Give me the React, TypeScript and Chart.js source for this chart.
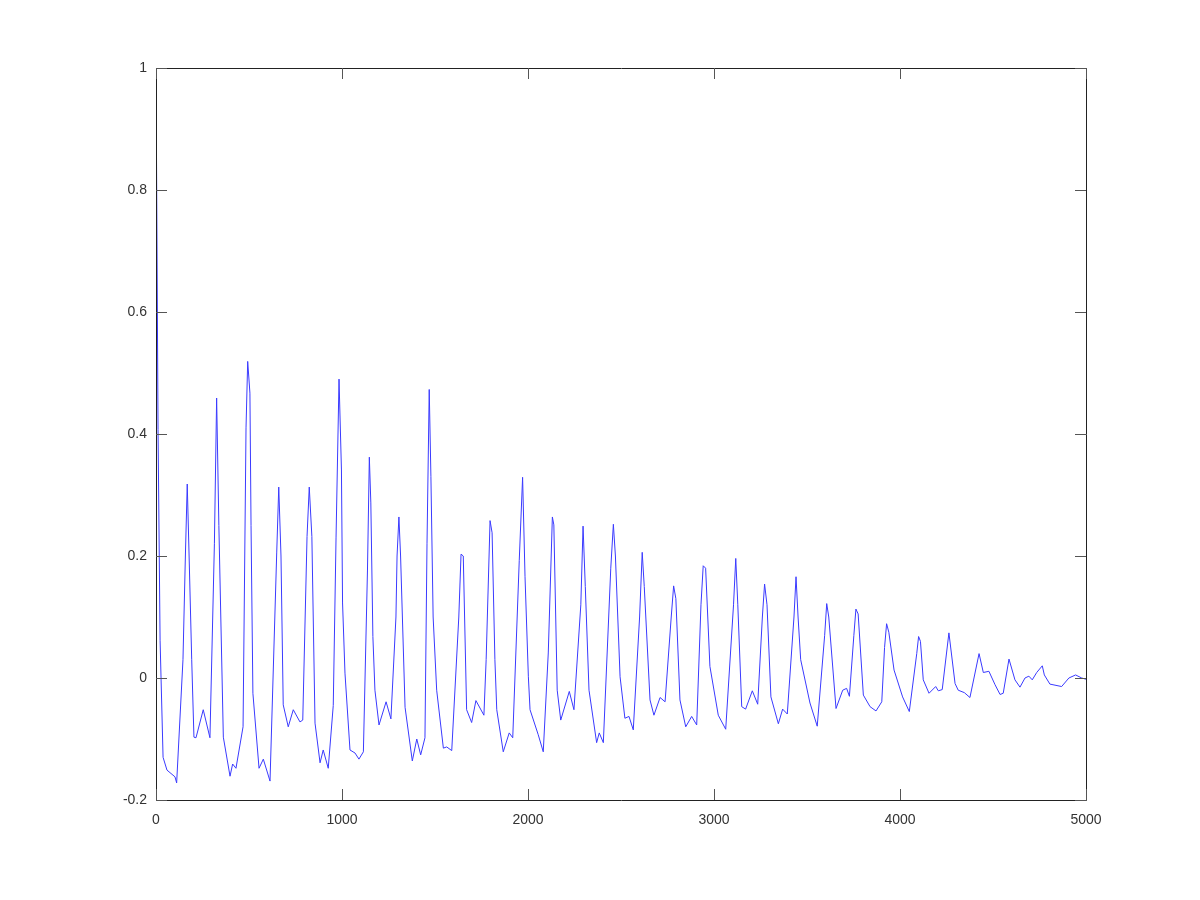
import React, { useEffect, useRef } from "react";
import { Chart, registerables } from "chart.js";

Chart.register(...registerables);

// lag values (x) and correlation values (y)
const lags: number[] = [
  0, 11, 22, 38, 59, 102, 111, 145, 158, 168, 178,
  192, 204, 215, 254, 290, 314, 326, 338,
  362, 398, 412, 430, 468, 484, 493, 505, 511,
  521, 554, 577, 613, 649, 660, 672,
  684, 711, 738, 774, 789, 812, 824, 838,
  855, 882, 899, 926, 953, 968, 984, 997, 1003,
  1016, 1043, 1070, 1091, 1115, 1137, 1147, 1155, 1166,
  1177, 1199, 1237, 1263, 1290, 1296, 1306, 1315,
  1339, 1378, 1402, 1423, 1446, 1457, 1469, 1478, 1490,
  1509, 1545, 1563, 1590, 1628, 1640, 1652,
  1670, 1697, 1720, 1763, 1775, 1796, 1807, 1822,
  1832, 1867, 1899, 1918, 1953, 1971, 1984, 2002,
  2011, 2055, 2082, 2109, 2131, 2139,
  2157, 2176, 2222, 2247, 2284, 2296, 2308,
  2328, 2369, 2383, 2405, 2445, 2459, 2470,
  2495, 2521, 2543, 2566, 2600, 2614, 2625,
  2656, 2677, 2710, 2737, 2770, 2783, 2795,
  2817, 2848, 2880, 2907, 2930, 2942, 2955,
  2978, 3023, 3063, 3105, 3117, 3128,
  3149, 3170, 3206, 3235, 3260, 3272, 3285,
  3306, 3346, 3369, 3394, 3430, 3441, 3452,
  3466, 3516, 3555, 3595, 3606, 3617,
  3656, 3692, 3713, 3728, 3752, 3763, 3775,
  3803, 3839, 3871, 3902, 3917, 3928, 3940,
  3968, 4014, 4050, 4090, 4100, 4110,
  4125, 4156, 4192, 4206, 4227, 4263,
  4296, 4313, 4346, 4376, 4425,
  4448, 4478, 4511, 4538, 4555, 4586,
  4618, 4645, 4672, 4693, 4711, 4735, 4765, 4776, 4806, 4869, 4908, 4944, 4977, 5000,
];

const corr: number[] = [
  1.0, 0.407, 0.062, -0.13, -0.151, -0.162, -0.172, 0.03, 0.2, 0.318, 0.2,
  0.03, -0.097, -0.098, -0.052, -0.098, 0.22, 0.459, 0.25,
  -0.097, -0.161, -0.141, -0.148, -0.08, 0.41, 0.519, 0.467, 0.25,
  -0.025, -0.148, -0.133, -0.169, 0.205, 0.313, 0.2,
  -0.044, -0.08, -0.052, -0.072, -0.069, 0.232, 0.313, 0.232,
  -0.074, -0.139, -0.118, -0.148, -0.045, 0.231, 0.49, 0.341, 0.123,
  0.008, -0.118, -0.123, -0.133, -0.121, 0.177, 0.362, 0.287, 0.068,
  -0.02, -0.077, -0.039, -0.067, 0.1, 0.2, 0.264, 0.2,
  -0.048, -0.136, -0.1, -0.126, -0.098, 0.22, 0.473, 0.33, 0.1,
  -0.02, -0.115, -0.113, -0.119, 0.1, 0.203, 0.2,
  -0.052, -0.073, -0.037, -0.061, 0.03, 0.258, 0.238, 0.03,
  -0.052, -0.121, -0.09, -0.098, 0.193, 0.329, 0.166, 0.002,
  -0.052, -0.093, -0.121, 0.041, 0.264, 0.251,
  -0.02, -0.069, -0.022, -0.052, 0.12, 0.249, 0.15,
  -0.02, -0.106, -0.09, -0.106, 0.18, 0.252, 0.2,
  0.002, -0.066, -0.063, -0.085, 0.1, 0.206, 0.15,
  -0.036, -0.061, -0.032, -0.039, 0.1, 0.151, 0.13,
  -0.036, -0.08, -0.063, -0.077, 0.12, 0.184, 0.18,
  0.019, -0.061, -0.084, 0.12, 0.196, 0.12,
  -0.047, -0.051, -0.021, -0.043, 0.1, 0.154, 0.12,
  -0.031, -0.075, -0.051, -0.059, 0.1, 0.166, 0.1,
  0.03, -0.041, -0.079, 0.07, 0.122, 0.1,
  -0.05, -0.02, -0.017, -0.03, 0.07, 0.113, 0.105,
  -0.028, -0.047, -0.054, -0.039, 0.05, 0.089, 0.075,
  0.013, -0.031, -0.055, 0.04, 0.068, 0.06,
  -0.003, -0.025, -0.014, -0.021, -0.019, 0.074,
  -0.009, -0.02, -0.024, -0.032, 0.04,
  0.009, 0.011, -0.011, -0.027, -0.025, 0.031,
  -0.003, -0.015, 0.0, 0.003, -0.003, 0.009, 0.02, 0.005, -0.01, -0.014, 0.0, 0.005, 0.0, -0.002,
];

const xTicks: number[] = [0, 1000, 2000, 3000, 4000, 5000];
const yTicks: number[] = [-0.2, 0, 0.2, 0.4, 0.6, 0.8, 1];

const FONT = "'Liberation Sans', 'DejaVu Sans', sans-serif";

const boxPlugin = {
  id: "gnuBox",
  afterDatasetsDraw(chart: any) {
    const { ctx, chartArea, scales } = chart;
    const { left, right, top, bottom } = chartArea;
    ctx.save();
    ctx.strokeStyle = "#222";
    ctx.lineWidth = 1;
    ctx.beginPath();
    ctx.rect(Math.round(left) + 0.5, Math.round(top) + 0.5, Math.round(right - left), Math.round(bottom - top));
    ctx.stroke();
    ctx.strokeStyle = "#555";
    const L = 11;
    ctx.beginPath();
    for (const v of yTicks) {
      const y = Math.round(scales.y.getPixelForValue(v)) + 0.5;
      ctx.moveTo(left, y);
      ctx.lineTo(left + L, y);
      ctx.moveTo(right, y);
      ctx.lineTo(right - L, y);
    }
    for (const v of xTicks) {
      const x = Math.round(scales.x.getPixelForValue(v)) + 0.5;
      ctx.moveTo(x, bottom);
      ctx.lineTo(x, bottom - L);
      ctx.moveTo(x, top);
      ctx.lineTo(x, top + L);
    }
    ctx.stroke();
    ctx.restore();
  },
};

export default function App() {
  const ref = useRef<HTMLCanvasElement | null>(null);
  useEffect(() => {
    if (!ref.current) return;
    const points = lags.map((x, i) => ({ x, y: corr[i] }));
    const chart = new Chart(ref.current, {
      type: "line",
      data: {
        datasets: [
          {
            data: points,
            borderColor: "#3a3aff",
            borderWidth: 1,
            pointRadius: 0,
            tension: 0,
            fill: false,
          },
        ],
      },
      options: {
        animation: false,
        responsive: false,
        maintainAspectRatio: false,
        layout: { padding: { top: 68, right: 114, left: 0, bottom: 0 } },
        plugins: { legend: { display: false }, tooltip: { enabled: false } },
        scales: {
          x: {
            type: "linear",
            min: 0,
            max: 5000,
            afterFit: (s: any) => {
              s.height = 100;
            },
            afterBuildTicks: (s: any) => {
              s.ticks = xTicks.map((v) => ({ value: v }));
            },
            grid: { display: false, drawTicks: false },
            border: { display: false },
            ticks: {
              padding: 12,
              color: "#333",
              font: { family: FONT, size: 14 },
              callback: (v: any) => String(v),
              maxRotation: 0,
            },
          },
          y: {
            type: "linear",
            min: -0.2,
            max: 1,
            afterFit: (s: any) => {
              s.width = 156;
            },
            afterBuildTicks: (s: any) => {
              s.ticks = yTicks.map((v) => ({ value: v }));
            },
            grid: { display: false, drawTicks: false },
            border: { display: false },
            ticks: {
              padding: 9,
              color: "#333",
              font: { family: FONT, size: 14 },
              callback: (v: any) => String(Math.round(Number(v) * 10) / 10),
            },
          },
        },
      },
      plugins: [boxPlugin],
    });
    return () => chart.destroy();
  }, []);
  return (
    <div style={{ position: "absolute", left: 0, top: 0, width: 1200, height: 900, background: "#fff" }}>
      <canvas ref={ref} width={1200} height={900} style={{ width: 1200, height: 900 }} />
    </div>
  );
}
